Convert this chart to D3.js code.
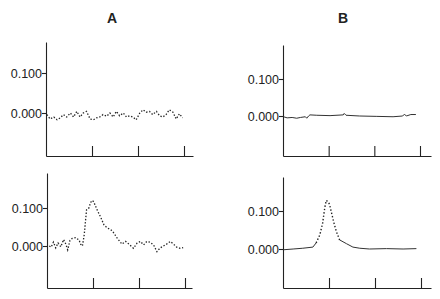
<!DOCTYPE html>
<html>
<head>
<meta charset="utf-8">
<script src="https://cdn.jsdelivr.net/npm/d3@7"></script>
<style>
  body { margin: 0; background: #fff; }
  text { font-family: "Liberation Sans", Arial, sans-serif; fill: #222; }
</style>
</head>
<body>
<script>
const w = 440,
  h = 299;

// series: [x (tick units), value]
const seriesATop = [
  [0.02, -0.004], [0.09, -0.015], [0.17, -0.01], [0.24, -0.017], [0.31, -0.012],
  [0.38, -0.004], [0.45, -0.01], [0.53, 0.0], [0.6, -0.01], [0.67, 0.004],
  [0.74, -0.01], [0.81, 0.0], [0.88, 0.004], [0.96, -0.015], [1.03, -0.017],
  [1.1, -0.012], [1.17, -0.01], [1.24, -0.004], [1.32, -0.008], [1.39, 0.0],
  [1.46, -0.01], [1.53, 0.004], [1.6, -0.007], [1.68, 0.0], [1.75, -0.01],
  [1.82, -0.007], [1.89, -0.01], [1.96, -0.017], [2.04, 0.0], [2.11, 0.008],
  [2.18, 0.002], [2.25, 0.004], [2.32, -0.004], [2.4, 0.004], [2.47, -0.007],
  [2.54, -0.01], [2.61, -0.004], [2.68, 0.008], [2.76, 0.002], [2.83, -0.015],
  [2.9, -0.002], [2.97, -0.012]
];
const seriesBTop = [
  [0.01, -0.002], [0.09, -0.005], [0.2, -0.004], [0.3, -0.006], [0.38, -0.004],
  [0.49, -0.002], [0.52, -0.006], [0.56, 0.0], [0.59, 0.003], [0.74, 0.002],
  [1.03, 0.001], [1.32, 0.003], [1.34, 0.007], [1.38, 0.002], [1.68, 0.0],
  [2.04, -0.001], [2.41, -0.002], [2.62, 0.0], [2.66, 0.005], [2.7, 0.0],
  [2.8, 0.004], [2.91, 0.004]
];
const seriesABottom = [
  [0.05, 0.0], [0.09, -0.003], [0.14, 0.01], [0.19, -0.005], [0.24, 0.008],
  [0.3, -0.002], [0.36, 0.017], [0.41, 0.005], [0.45, -0.01], [0.5, 0.015],
  [0.55, 0.02], [0.63, 0.022], [0.7, 0.015], [0.73, 0.005], [0.77, 0.0],
  [0.81, 0.03], [0.84, 0.07], [0.86, 0.095], [0.91, 0.1], [0.95, 0.115],
  [0.99, 0.12], [1.02, 0.115], [1.09, 0.095], [1.17, 0.075], [1.24, 0.055],
  [1.31, 0.048], [1.42, 0.04], [1.53, 0.02], [1.63, 0.005], [1.71, 0.012],
  [1.78, 0.005], [1.88, -0.006], [1.96, 0.008], [2.03, 0.012], [2.1, 0.003],
  [2.17, 0.012], [2.24, 0.01], [2.32, 0.002], [2.39, -0.015], [2.46, -0.005],
  [2.53, 0.0], [2.6, 0.005], [2.68, 0.012], [2.75, 0.005], [2.82, -0.003],
  [2.89, -0.006], [2.96, -0.004]
];
const seriesBBottom = [
  [0.01, -0.002], [0.22, 0.0], [0.43, 0.002], [0.65, 0.005], [0.72, 0.016],
  [0.8, 0.037], [0.86, 0.067], [0.91, 0.11], [0.94, 0.128], [0.98, 0.124],
  [1.01, 0.118], [1.05, 0.098], [1.1, 0.072], [1.16, 0.046], [1.23, 0.024],
  [1.38, 0.014], [1.52, 0.005], [1.67, 0.002], [1.88, 0.0], [2.25, 0.001],
  [2.61, 0.0], [2.9, 0.001]
];

const columnTitles = ['A', 'B'];
const yTickValues = [0, 0.1];
const xTickValues = [1, 2, 3];

// panel layout (pixels)
const panels = [
  { data: seriesATop, style: 'dotted', ax: 46, t3: 184, xEnd: 193, top: 42, base: 156, y0: 113, y1: 73 },
  { data: seriesBTop, style: 'solid', ax: 283, t3: 420, xEnd: 431, top: 45, base: 156, y0: 116, y1: 79 },
  { data: seriesABottom, style: 'dotted', ax: 47, t3: 185, xEnd: 192, top: 173, base: 288, y0: 246, y1: 208 },
  { data: seriesBBottom, style: 'mixed', ax: 283, t3: 421, xEnd: 431, top: 177, base: 288, y0: 249, y1: 211 }
];

const svg = d3.select('body').append('svg').attr('width', w).attr('height', h);

svg.selectAll('.title')
  .data(columnTitles)
  .enter()
  .append('text')
  .attr('class', 'title')
  .attr('x', (d, i) => [112, 343][i])
  .attr('y', 23)
  .attr('text-anchor', 'middle')
  .style('font-size', '14px')
  .style('font-weight', 'bold')
  .text(d => d);

panels.forEach(p => {
  const x0 = d3.scaleLinear().domain([0, 3]).range([p.ax, p.t3]);
  const x = d3.scaleLinear().domain([0, x0.invert(p.xEnd)]).range([p.ax, p.xEnd]);
  const y0 = d3.scaleLinear().domain([0, 0.1]).range([p.y0, p.y1]);
  const y = d3.scaleLinear().domain([y0.invert(p.base), y0.invert(p.top)]).range([p.base, p.top]);

  const g = svg.append('g');

  const yAxis = g.append('g')
    .attr('transform', `translate(${p.ax},0)`)
    .call(d3.axisLeft(y).tickValues(yTickValues).tickFormat(d3.format('.3f')).tickSize(4).tickSizeOuter(0).tickPadding(0));
  yAxis.selectAll('text').style('font-size', '12.5px').style('fill', '#222').style('font-family', '"Liberation Sans", Arial, sans-serif');

  g.append('g')
    .attr('transform', `translate(0,${p.base})`)
    .call(d3.axisTop(x).tickValues(xTickValues).tickFormat('').tickSize(10).tickSizeOuter(0));

  g.selectAll('.domain, .tick line').attr('stroke', '#222').attr('stroke-width', 1.1);

  const line = d3.line().x(d => x(d[0])).y(d => y(d[1]));

  if (p.style === 'mixed') {
    const inPeak = d => d[0] >= 0.72 && d[0] <= 1.23;
    g.append('path')
      .attr('d', line.defined(d => d[0] <= 0.72)(p.data))
      .attr('fill', 'none').attr('stroke', '#333').attr('stroke-width', 1);
    g.append('path')
      .attr('d', line.defined(d => d[0] >= 1.23)(p.data))
      .attr('fill', 'none').attr('stroke', '#333').attr('stroke-width', 1);
    g.append('path')
      .attr('d', line.defined(inPeak)(p.data))
      .attr('fill', 'none').attr('stroke', '#222').attr('stroke-width', 1.4)
      .attr('stroke-dasharray', '1.4,2');
  } else {
    g.append('path')
      .attr('d', line(p.data))
      .attr('fill', 'none')
      .attr('stroke', p.style === 'dotted' ? '#222' : '#333')
      .attr('stroke-width', p.style === 'dotted' ? 1.3 : 1)
      .attr('stroke-dasharray', p.style === 'dotted' ? '1.4,1.8' : null);
  }
});
</script>
</body>
</html>
